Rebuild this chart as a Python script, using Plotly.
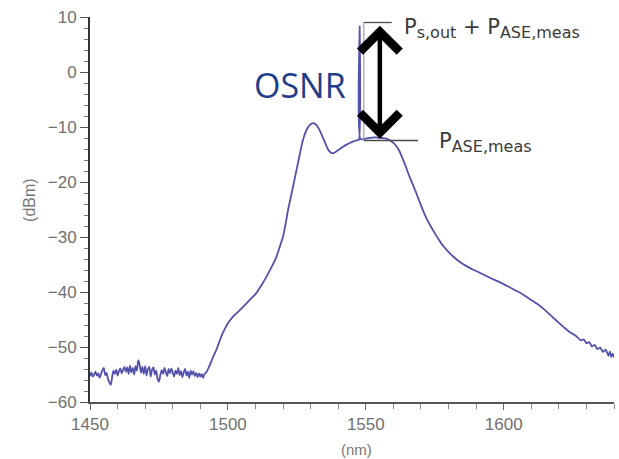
import plotly.graph_objects as go

# Optical spectrum of an amplified signal: wavelength (nm) vs power (dBm)

# Noise floor before the amplifier band
floor_nm = [1450.0 + 0.5 * i for i in range(85)]
floor_dbm = [
    -55.3, -54.6, -55.4, -55.0, -54.5, -55.2, -54.8, -55.6, -54.9, -54.2,
    -53.8, -55.1, -54.7, -55.8, -56.4, -56.9, -55.6, -54.3, -54.9, -54.1,
    -55.2, -54.4, -53.9, -54.8, -54.2, -53.6, -54.5, -53.7, -54.9, -53.4,
    -54.6, -53.8, -55.0, -53.5, -54.3, -52.4, -53.2, -54.7, -53.6, -54.9,
    -53.5, -55.2, -54.0, -53.6, -55.4, -54.1, -53.7, -55.0, -54.3, -55.8,
    -56.3, -55.1, -54.2, -54.9, -53.8, -54.6, -55.3, -54.0, -54.8, -53.9,
    -54.7, -55.4, -54.3, -54.9, -53.8, -55.1, -54.4, -55.5, -54.6, -54.0,
    -55.2, -54.5, -55.6, -54.3, -55.0, -54.4, -55.3, -54.7, -55.5, -54.8,
    -55.4, -54.9, -55.6, -54.9, -54.7,
]

# ASE band, signal line and long-wavelength tail
band_nm = [
    1493.0, 1494.0, 1495.0, 1496.0, 1497.0, 1498.0, 1499.0, 1500.0, 1501.0,
    1502.0, 1503.5, 1505.5, 1508.0, 1510.3, 1512.0, 1514.0, 1516.0, 1517.6,
    1518.8, 1520.0, 1521.0, 1521.8, 1522.7, 1523.6, 1524.5, 1525.4, 1526.3,
    1527.2, 1528.2, 1529.1, 1530.0, 1530.9, 1531.8, 1532.6, 1533.3, 1534.5,
    1535.7, 1536.6, 1537.5, 1538.5, 1540.0, 1541.7, 1543.0, 1544.2, 1545.5,
    1546.8, 1547.5, 1547.8, 1548.1, 1550.0, 1553.0, 1556.0, 1557.5, 1558.7,
    1560.0, 1561.1, 1562.3, 1563.4, 1564.8, 1566.0, 1567.0, 1568.3, 1569.5,
    1570.7, 1572.0, 1573.5, 1575.0, 1576.5, 1578.0, 1579.8, 1581.6, 1584.0,
    1586.5, 1588.8, 1591.3, 1595.0, 1598.5, 1602.0, 1605.8, 1609.5, 1612.0,
    1615.0, 1617.8, 1620.0, 1622.0, 1624.0, 1626.0, 1628.0, 1629.0, 1630.0,
    1631.0, 1632.0, 1633.0, 1634.0, 1635.0, 1636.0, 1637.0, 1638.0, 1638.5,
    1639.0, 1639.5, 1640.0,
]
band_dbm = [
    -53.8, -52.6, -51.4, -50.3, -48.9, -47.6, -46.6, -45.7, -45.0,
    -44.4, -43.7, -42.7, -41.4, -40.2, -38.9, -37.2, -35.3, -33.6,
    -31.8, -29.9, -27.4, -25.1, -23.0, -20.9, -18.7, -16.6, -14.4,
    -12.4, -10.9, -10.0, -9.5, -9.3, -9.5, -10.0, -10.6, -12.0,
    -13.4, -14.3, -14.7, -14.7, -14.2, -13.6, -13.2, -12.9, -12.6,
    -12.4, -12.3, 8.3, -12.2, -12.1, -11.9, -12.0, -12.1, -12.4,
    -12.9, -13.5, -14.5, -15.8, -17.6, -19.2, -20.4, -22.0, -23.6,
    -25.1, -26.6, -28.0, -29.3, -30.5, -31.6, -32.6, -33.5, -34.5,
    -35.3, -35.9, -36.5, -37.4, -38.2, -39.1, -40.1, -41.3, -42.1,
    -43.3, -44.6, -45.6, -46.5, -47.3, -47.9, -48.8, -48.6, -49.3,
    -49.1, -49.9, -49.6, -50.4, -50.1, -50.9, -50.5, -51.6, -50.8,
    -51.8, -51.2, -51.9,
]

wavelength = floor_nm + band_nm
power = floor_dbm + band_dbm

# OSNR construction: signal-plus-ASE level, ASE level, arrow position
level_total = 9.0
level_ase = -12.45
arrow_nm = 1555.1
bracket_nm = 1549.3
top_line_end = 1559.4
bottom_line_end = 1568.9

fig = go.Figure()
fig.add_trace(go.Scatter(
    x=wavelength, y=power, mode="lines",
    line=dict(color="#5252ad", width=1.8, shape="spline", smoothing=0.6),
    showlegend=False, hoverinfo="skip",
))

guide = dict(color="#4a4a4a", width=1.3)
fig.add_shape(type="line", x0=bracket_nm, x1=top_line_end, y0=level_total, y1=level_total, line=guide)
fig.add_shape(type="line", x0=bracket_nm, x1=bottom_line_end, y0=level_ase, y1=level_ase, line=guide)
fig.add_shape(type="line", x0=bracket_nm, x1=bracket_nm, y0=level_ase, y1=level_total,
              line=dict(color="#8a8aa8", width=1))

fig.add_annotation(
    x=arrow_nm, y=level_ase + 0.3, ax=arrow_nm, ay=level_total - 0.3,
    xref="x", yref="y", axref="x", ayref="y", text="",
    showarrow=True, arrowside="end+start",
    arrowhead=4, startarrowhead=4, arrowsize=1.7, startarrowsize=1.7,
    arrowwidth=4.5, arrowcolor="#000000",
)

label_font = dict(family="DejaVu Sans", size=21, color="#3a3a3a")
sub = "<sub><span style='font-size:16px'>{}</span></sub>"
fig.add_annotation(
    x=1563.1, y=8.0, xref="x", yref="y", xanchor="left", yanchor="middle",
    text="P" + sub.format("s,out") + " + P" + sub.format("ASE,meas"),
    showarrow=False, font=label_font,
)
fig.add_annotation(
    x=1575.7, y=-12.9, xref="x", yref="y", xanchor="left", yanchor="middle",
    text="P" + sub.format("ASE,meas"), showarrow=False, font=label_font,
)
fig.add_annotation(
    x=1526.1, y=-2.4, xref="x", yref="y", xanchor="center", yanchor="middle",
    text="OSNR", showarrow=False,
    font=dict(family="Open Sans", size=34, color="#213d8a"),
)

# Axis titles placed as free text
title_font = dict(family="Liberation Sans", size=15, color="#777")
fig.add_annotation(
    x=1546.8, y=0, xref="x", yref="paper", yshift=-47, yanchor="middle",
    text="(nm)", showarrow=False, font=title_font,
)
fig.add_annotation(
    x=0, y=0.525, xref="paper", yref="paper", xshift=-60, xanchor="center",
    text="(dBm)", textangle=-90, showarrow=False,
    font=dict(family="Liberation Sans", size=16, color="#777"),
)

tick_font = dict(family="Liberation Sans", size=17, color="#707070")
fig.update_xaxes(
    range=[1450, 1640], tickmode="array", tickvals=[1450, 1500, 1550, 1600],
    ticks="outside", ticklen=6, tickwidth=1, tickcolor="#666",
    minor=dict(dtick=10, tick0=1450, ticks="outside", ticklen=5, tickcolor="#888"),
    showline=True, linecolor="#555", linewidth=2,
    showgrid=False, zeroline=False, tickfont=tick_font,
)
fig.update_yaxes(
    range=[-60, 10], tickmode="linear", tick0=-60, dtick=10,
    ticks="outside", ticklen=8, tickwidth=1, tickcolor="#555",
    minor=dict(dtick=2, tick0=-60, ticks="outside", ticklen=4, tickcolor="#777"),
    showline=True, linecolor="#333", linewidth=2,
    showgrid=False, zeroline=False, tickfont=tick_font,
)
fig.update_layout(
    width=619, height=459,
    margin=dict(l=90, r=5, t=17, b=57),
    paper_bgcolor="white", plot_bgcolor="white",
)
fig.write_html("out.html")
